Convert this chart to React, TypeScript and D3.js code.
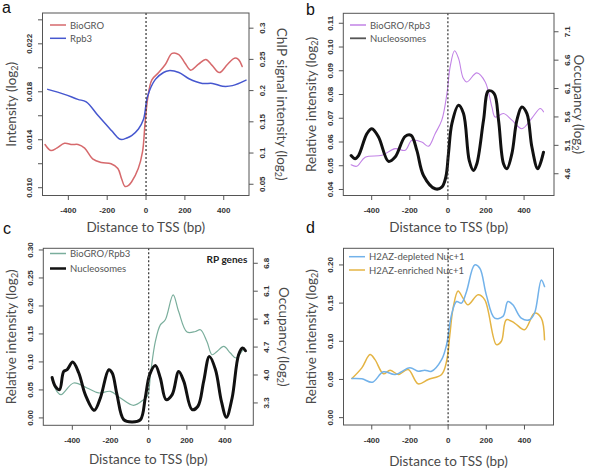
import React from 'react';
import * as d3 from 'd3';

type Pt = [number, number];

const xTicks = [-400, -200, 0, 200, 400];

// Panel a
const aBioGRO: Pt[] = [[-520,0.0136],[-490,0.0131],[-460,0.0133],[-420,0.0137],[-380,0.0136],[-350,0.0136],[-316,0.0133],[-275,0.0124],[-230,0.0121],[-180,0.0120],[-145,0.0116],[-125,0.0107],[-108,0.0101],[-90,0.0102],[-74,0.0105],[-40,0.0116],[-18,0.0130],[-5,0.0154],[8,0.0174],[30,0.0190],[65,0.0196],[100,0.0203],[134,0.0212],[169,0.0211],[200,0.0204],[230,0.0198],[270,0.0203],[308,0.0207],[340,0.0202],[377,0.0196],[420,0.0203],[455,0.0208],[475,0.0207],[495,0.0201]];
const aRpb3: Pt[] = [[-506,0.202],[-420,0.194],[-351,0.186],[-308,0.182],[-247,0.160],[-178,0.136],[-140,0.123],[-126,0.1215],[-100,0.124],[-74,0.128],[-39,0.1385],[-13,0.154],[8,0.191],[48,0.218],[90,0.229],[117,0.232],[169,0.229],[221,0.219],[290,0.2115],[342,0.2115],[394,0.207],[445,0.208],[515,0.2167]];
const aLeftTicks = [0.010,0.012,0.014,0.016,0.018,0.020,0.022,0.024];
const aLeftLabels = [0.010,0.014,0.018,0.022];
const aRightTicks = [0.05,0.1,0.15,0.2,0.25,0.3];

// Panel b
const bRatio: Pt[] = [[-508,0.0504],[-478,0.0498],[-434,0.0536],[-346,0.0544],[-277,0.0572],[-224,0.0565],[-189,0.0607],[-137,0.060],[-102,0.0582],[-67,0.0635],[-32,0.0692],[-5,0.0804],[12,0.0917],[35,0.0984],[56,0.0952],[80,0.087],[100,0.0853],[152,0.0891],[196,0.0853],[231,0.0748],[248,0.0705],[292,0.072],[336,0.0692],[388,0.0656],[440,0.070],[485,0.0741],[502,0.0727]];
const bNuc: Pt[] = [[-508,4.92],[-487,4.865],[-469,4.92],[-425,5.306],[-399,5.394],[-364,5.246],[-312,4.817],[-277,4.893],[-224,5.258],[-193,5.276],[-163,5.011],[-128,4.57],[-67,4.335],[-32,4.363],[-11,4.54],[3,4.953],[21,5.482],[56,5.805],[82,5.659],[112,4.835],[134,4.658],[152,4.776],[187,5.54],[213,6.058],[243,6.012],[266,5.54],[292,4.776],[310,4.688],[336,4.953],[362,5.54],[388,5.776],[415,5.659],[441,5.07],[472,4.688],[502,4.98]];
const bLeftTicks = [0.04,0.05,0.06,0.07,0.08,0.09,0.10,0.11];
const bRightTicks = [4.6,5.1,5.6,6.1,6.6,7.1];

// Panel c
const cRatio: Pt[] = [[-506,0.068],[-480,0.047],[-459,0.0415],[-393,0.0624],[-323,0.0535],[-262,0.0446],[-200,0.0474],[-148,0.0357],[-79,0.0225],[-27,0.0326],[-5,0.04],[10,0.08],[35,0.1366],[61,0.1663],[87,0.1753],[128,0.2198],[157,0.19],[201,0.1533],[245,0.1544],[271,0.1574],[305,0.1366],[332,0.1129],[358,0.1187],[393,0.1277],[428,0.1159],[458,0.107],[498,0.1218],[507,0.1187]];
const cNuc: Pt[] = [[-506,3.94],[-489,3.715],[-467,3.633],[-445,4.09],[-427,4.133],[-398,4.325],[-366,4.05],[-332,3.508],[-285,3.115],[-253,3.425],[-209,4.133],[-191,4.05],[-166,3.508],[-131,2.883],[-87,2.825],[-43,2.883],[-18,3.425],[5,4.008],[35,4.24],[61,3.925],[91,3.383],[123,3.508],[157,4.09],[184,3.84],[227,3.133],[258,3.217],[288,3.84],[318,4.465],[350,4.133],[381,3.34],[407,2.94],[437,3.425],[471,4.508],[492,4.675],[507,4.608]];
const cLeftTicks = [0,0.05,0.10,0.15,0.20,0.25,0.30];
const cRightTicks = [3.3,4.0,4.7,5.4,6.1,6.8];

// Panel d
const dDepleted: Pt[] = [[-504,0.0513],[-452,0.0509],[-397,0.0464],[-339,0.060],[-278,0.0565],[-200,0.0652],[-157,0.0608],[-122,0.0621],[-87,0.0608],[-34,0.076],[-8,0.0956],[18,0.1348],[44,0.1521],[70,0.150],[96,0.165],[139,0.200],[166,0.1957],[200,0.1608],[244,0.1304],[287,0.1326],[313,0.1521],[339,0.1478],[383,0.1304],[427,0.1282],[453,0.137],[488,0.1804],[505,0.1717]];
const dEnriched: Pt[] = [[-504,0.0513],[-452,0.0652],[-409,0.0826],[-383,0.076],[-339,0.0574],[-304,0.0621],[-261,0.0565],[-209,0.063],[-157,0.0443],[-104,0.050],[-34,0.0565],[-8,0.0738],[9,0.1087],[26,0.1435],[52,0.166],[78,0.1565],[104,0.1478],[157,0.1608],[192,0.1543],[253,0.0956],[279,0.100],[305,0.1282],[348,0.1239],[400,0.1152],[453,0.137],[488,0.1304],[505,0.1021]];
const dLeftTicks = [0,0.05,0.10,0.15,0.20];

const TICK_FONT = "'Liberation Sans', Arial, sans-serif";
const TITLE_FONT = "Lato, 'Open Sans', sans-serif";

type Series = { data: Pt[]; side: 'left' | 'right'; color: string; width: number };
type Axis = { domain: [number, number]; ticks: number[]; labels: number[]; fmt: (v: number) => string };
type Cfg = {
  letter: string; letterPos: [number, number];
  box: { x0: number; x1: number; y0: number; y1: number };
  xDomain: [number, number];
  left: Axis; right?: Axis;
  leftTitle: [string, string]; leftTitleX: number;
  rightTitle?: [string, string]; rightTitleX?: number;
  xTitleY: number;
  series: Series[];
  legend: { label: string; color: string; width: number }[];
  legendPos: [number, number, number];
  note?: string;
};

const Sub = ({ pre, post }: { pre: string; post: string }) => (
  <>
    {pre}
    <tspan fontSize={9} dy={3}>2</tspan>
    <tspan dy={-3}>{post}</tspan>
  </>
);

function Panel({ cfg }: { cfg: Cfg }) {
  const { box } = cfg;
  const x = d3.scaleLinear().domain(cfg.xDomain).range([box.x0, box.x1]);
  const yL = d3.scaleLinear().domain(cfg.left.domain).range([box.y1, box.y0]);
  const yR = cfg.right ? d3.scaleLinear().domain(cfg.right.domain).range([box.y1, box.y0]) : null;
  const mk = (s: d3.ScaleLinear<number, number>) =>
    d3.line<Pt>().x(d => x(d[0])).y(d => s(d[1])).curve(d3.curveCatmullRom.alpha(0.5));
  const cy = (box.y0 + box.y1) / 2;
  const cx = (box.x0 + box.x1) / 2;
  const axisCol = '#555';
  const lab = '#333';
  return (
    <g>
      <text x={cfg.letterPos[0]} y={cfg.letterPos[1]} fontFamily={TICK_FONT} fontSize={16} fill="#111">{cfg.letter}</text>
      {cfg.series.map((s, i) => (
        <path key={i} d={mk(s.side === 'left' ? yL : (yR as any))(s.data) || ''} fill="none" stroke={s.color} strokeWidth={s.width} strokeLinejoin="round" strokeLinecap="round" />
      ))}
      <line x1={x(0)} x2={x(0)} y1={box.y0} y2={box.y1} stroke="#333" strokeWidth={1.2} strokeDasharray="2,2" />
      <rect x={box.x0} y={box.y0} width={box.x1 - box.x0} height={box.y1 - box.y0} fill="none" stroke={axisCol} strokeWidth={1} />
      {xTicks.map(t => (
        <g key={t}>
          <line x1={x(t)} x2={x(t)} y1={box.y1} y2={box.y1 + 4.5} stroke={axisCol} />
          <text x={x(t)} y={box.y1 + 15} dominantBaseline="central" textAnchor="middle" fontFamily={TICK_FONT} fontWeight="bold" fontSize={8} fill={lab}>{t}</text>
        </g>
      ))}
      {cfg.left.ticks.map(t => (
        <line key={t} x1={box.x0 - 4.5} x2={box.x0} y1={yL(t)} y2={yL(t)} stroke={axisCol} />
      ))}
      {cfg.left.labels.map(t => (
        <text key={t} transform={`translate(${box.x0 - 13},${yL(t)}) rotate(-90)`} textAnchor="middle" dominantBaseline="central" fontFamily={TICK_FONT} fontWeight="bold" fontSize={8} fill={lab}>{cfg.left.fmt(t)}</text>
      ))}
      {cfg.right && yR && cfg.right.ticks.map(t => (
        <g key={t}>
          <line x1={box.x1} x2={box.x1 + 4.5} y1={yR(t)} y2={yR(t)} stroke={axisCol} />
          <text transform={`translate(${box.x1 + 13},${yR(t)}) rotate(-90)`} textAnchor="middle" dominantBaseline="central" fontFamily={TICK_FONT} fontWeight="bold" fontSize={8} fill={lab}>{cfg.right!.fmt(t)}</text>
        </g>
      ))}
      <text transform={`translate(${cfg.leftTitleX},${cy}) rotate(-90)`} textAnchor="middle" dominantBaseline="central" fontFamily={TITLE_FONT} fontSize={13.5} fill="#4a4a4a">
        <Sub pre={cfg.leftTitle[0]} post={cfg.leftTitle[1]} />
      </text>
      {cfg.rightTitle && (
        <text transform={`translate(${cfg.rightTitleX},${cy}) rotate(90)`} textAnchor="middle" dominantBaseline="central" fontFamily={TITLE_FONT} fontSize={13.5} fill="#4a4a4a">
          <Sub pre={cfg.rightTitle[0]} post={cfg.rightTitle[1]} />
        </text>
      )}
      <text x={cx} y={cfg.xTitleY} textAnchor="middle" dominantBaseline="central" fontFamily={TITLE_FONT} fontSize={13.5} fill="#4a4a4a">Distance to TSS (bp)</text>
      {cfg.legend.map((l, i) => {
        const [lx, ly, sp] = cfg.legendPos;
        const yy = ly + i * sp;
        return (
          <g key={l.label}>
            <line x1={lx} x2={lx + 16} y1={yy} y2={yy} stroke={l.color} strokeWidth={l.width} />
            <text x={lx + 20} y={yy} dominantBaseline="central" fontFamily={TITLE_FONT} fontSize={9.5} fill="#555">{l.label}</text>
          </g>
        );
      })}
      {cfg.note && (
        <text x={box.x1 - 6} y={box.y0 + 11} textAnchor="end" dominantBaseline="central" fontFamily={TITLE_FONT} fontWeight="bold" fontSize={10} fill="#222">{cfg.note}</text>
      )}
    </g>
  );
}

const f2 = (v: number) => d3.format('.2f')(v);
const f3 = (v: number) => d3.format('.3f')(v);
const f1 = (v: number) => d3.format('.1f')(v);
const fg = (v: number) => String(+v.toFixed(2));

const panels: Cfg[] = [
  {
    letter: 'a', letterPos: [2, 13],
    box: { x0: 42.5, x1: 249, y0: 13, y1: 195.5 },
    xDomain: [-533, 530],
    left: { domain: [0.00935, 0.02457], ticks: aLeftTicks, labels: aLeftLabels, fmt: f3 },
    right: { domain: [0.032, 0.3243], ticks: aRightTicks, labels: aRightTicks, fmt: fg },
    leftTitle: ['Intensity (log', ')'], leftTitleX: 11,
    rightTitle: ['ChIP signal intensity (log', ')'], rightTitleX: 282,
    xTitleY: 227,
    series: [
      { data: aBioGRO, side: 'left', color: '#d6696c', width: 1.5 },
      { data: aRpb3, side: 'right', color: '#4657cf', width: 1.5 },
    ],
    legend: [
      { label: 'BioGRO', color: '#d6696c', width: 1.5 },
      { label: 'Rpb3', color: '#4657cf', width: 1.5 },
    ],
    legendPos: [50, 25, 13.3],
  },
  {
    letter: 'b', letterPos: [306, 15],
    box: { x0: 343.3, x1: 554, y0: 13.3, y1: 195.5 },
    xDomain: [-549, 557],
    left: { domain: [0.03747, 0.1142], ticks: bLeftTicks, labels: bLeftTicks, fmt: f2 },
    right: { domain: [4.217, 7.425], ticks: bRightTicks, labels: bRightTicks, fmt: f1 },
    leftTitle: ['Relative intensity (log', ')'], leftTitleX: 311,
    rightTitle: ['Occupancy (log', ')'], rightTitleX: 579,
    xTitleY: 227,
    series: [
      { data: bRatio, side: 'left', color: '#c283e6', width: 1.1 },
      { data: bNuc, side: 'right', color: '#111', width: 3 },
    ],
    legend: [
      { label: 'BioGRO/Rpb3', color: '#c283e6', width: 1.5 },
      { label: 'Nucleosomes', color: '#555', width: 1.8 },
    ],
    legendPos: [350, 25, 13.3],
  },
  {
    letter: 'c', letterPos: [3, 234],
    box: { x0: 43.3, x1: 253.3, y0: 248.3, y1: 425.3 },
    xDomain: [-552, 548],
    left: { domain: [-0.0132, 0.303], ticks: cLeftTicks, labels: cLeftTicks, fmt: f2 },
    right: { domain: [2.74, 7.175], ticks: cRightTicks, labels: cRightTicks, fmt: f1 },
    leftTitle: ['Relative intensity (log', ')'], leftTitleX: 11,
    rightTitle: ['Occupancy (log', ')'], rightTitleX: 284,
    xTitleY: 459,
    series: [
      { data: cRatio, side: 'left', color: '#7aae9c', width: 1.2 },
      { data: cNuc, side: 'right', color: '#111', width: 3 },
    ],
    legend: [
      { label: 'BioGRO/Rpb3', color: '#7aae9c', width: 1.5 },
      { label: 'Nucleosomes', color: '#111', width: 2.5 },
    ],
    legendPos: [50, 253.5, 15],
    note: 'RP genes',
  },
  {
    letter: 'd', letterPos: [306, 233],
    box: { x0: 343.5, x1: 553.5, y0: 248.3, y1: 425 },
    xDomain: [-548, 552],
    left: { domain: [-0.00965, 0.2218], ticks: dLeftTicks, labels: dLeftTicks, fmt: f2 },
    leftTitle: ['Relative intensity (log', ')'], leftTitleX: 311,
    xTitleY: 461,
    series: [
      { data: dEnriched, side: 'left', color: '#e4b444', width: 1.5 },
      { data: dDepleted, side: 'left', color: '#72b2ea', width: 1.5 },
    ],
    legend: [
      { label: 'H2AZ-depleted Nuc+1', color: '#72b2ea', width: 1.5 },
      { label: 'H2AZ-enriched Nuc+1', color: '#e4b444', width: 1.5 },
    ],
    legendPos: [349, 256.7, 13.3],
  },
];

export default function App() {
  return (
    <svg width={590} height={469} style={{ position: 'absolute', left: 0, top: 0, background: '#fff' }}>
      <rect x={0} y={0} width={590} height={469} fill="#fff" />
      {panels.map(p => <Panel key={p.letter} cfg={p} />)}
    </svg>
  );
}
